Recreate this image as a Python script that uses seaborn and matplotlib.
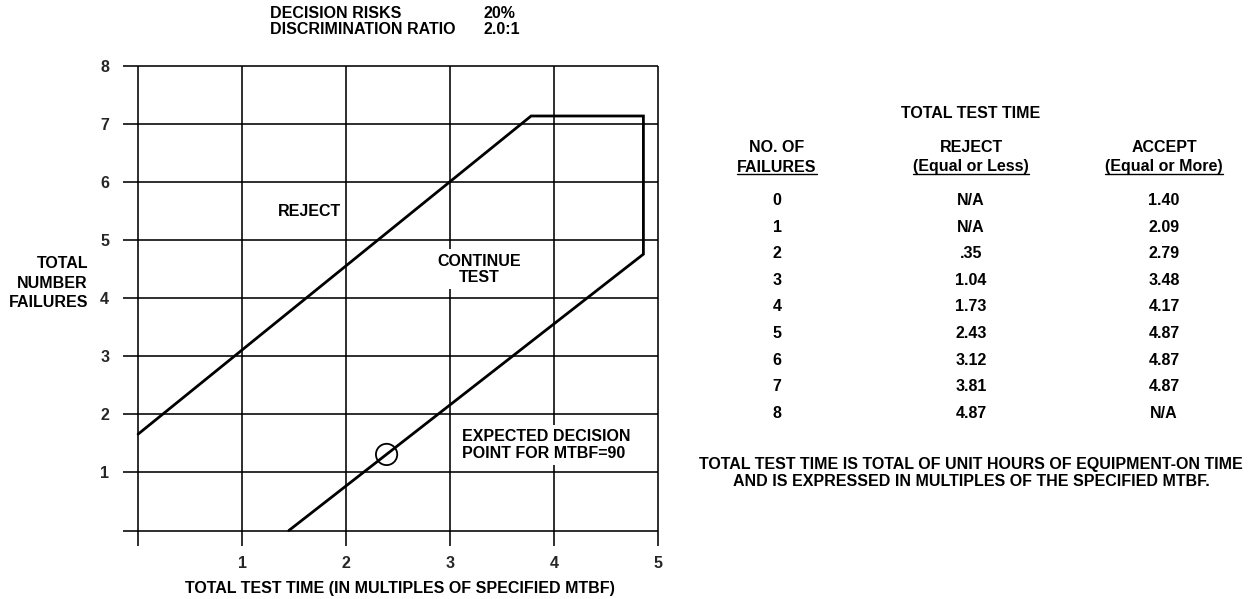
import numpy as np
import pandas as pd
import matplotlib
matplotlib.use("Agg")
import matplotlib.pyplot as plt
from matplotlib.lines import Line2D
import seaborn as sns

# ---- data ----
boundary_time = [0.0, 3.78, 4.86, 4.86, 1.45]
boundary_failures = [1.66, 7.14, 7.14, 4.76, 0.0]
decision_time = [2.39]
decision_failures = [1.31]
grid_x = [0, 1, 2, 3, 4, 5]
grid_y = [0, 1, 2, 3, 4, 5, 6, 7, 8]
x_ticks = [1, 2, 3, 4, 5]
y_ticks = [1, 2, 3, 4, 5, 6, 7, 8]

table_failures = ["0", "1", "2", "3", "4", "5", "6", "7", "8"]
table_reject = ["N/A", "N/A", ".35", "1.04", "1.73", "2.43", "3.12", "3.81", "4.87"]
table_accept = ["1.40", "2.09", "2.79", "3.48", "4.17", "4.87", "4.87", "4.87", "N/A"]

W, H = 1248, 599
FS = 11.5

sns.set_theme(style="white")
plt.rcParams["font.family"] = ["Liberation Sans", "DejaVu Sans"]
plt.rcParams["font.weight"] = "bold"
plt.rcParams["text.color"] = "black"

fig = plt.figure(figsize=(W / 100, H / 100), dpi=100)
fig.patch.set_facecolor("white")

# axes geometry (pixels)
ax_l, ax_r, ax_t, ax_b = 123, 659, 64.9, 545.6
ax = fig.add_axes([ax_l / W, (H - ax_b) / H, (ax_r - ax_l) / W, (ax_b - ax_t) / H])
ax.set_xlim(-0.145, 5.01)
ax.set_ylim(-0.26, 8.02)
ax.set_facecolor("white")
for s in ax.spines.values():
    s.set_visible(False)

ax.vlines(grid_x, -0.26, 8, color="black", lw=1.15, zorder=1)
ax.hlines(grid_y, -0.145, 5, color="black", lw=1.15, zorder=1)

df = pd.DataFrame({"t": boundary_time, "n": boundary_failures})
sns.lineplot(data=df, x="t", y="n", sort=False, estimator=None, color="black",
             lw=2.0, ax=ax, zorder=3)
for ln in ax.lines:
    ln.set_solid_joinstyle("miter")

pt = pd.DataFrame({"t": decision_time, "n": decision_failures})
sns.scatterplot(data=pt, x="t", y="n", marker="o", s=235, facecolor="none",
                edgecolor="black", linewidth=1.3, ax=ax, zorder=4)

ax.set_xticks(x_ticks)
ax.set_yticks(y_ticks)
ax.set_xticklabels([str(v) for v in x_ticks], fontsize=FS, fontweight="bold")
ax.set_yticklabels([str(v) for v in y_ticks], fontsize=FS, fontweight="bold")
ax.tick_params(axis="x", length=0, pad=7.5)
ax.tick_params(axis="y", length=0, pad=10)
ax.set_xlabel("")
ax.set_ylabel("")

box = dict(facecolor="white", edgecolor="none", pad=3)
ax.text(1.65, 5.5, "REJECT", ha="center", va="center", fontsize=FS, fontweight="bold", zorder=5)
ax.text(3.28, 4.5, "CONTINUE\nTEST", ha="center", va="center", fontsize=FS,
        fontweight="bold", linespacing=1.12, bbox=box, zorder=5)
ax.text(3.12, 1.47, "EXPECTED DECISION\nPOINT FOR MTBF=90", ha="left", va="center",
        fontsize=FS, fontweight="bold", linespacing=1.18, bbox=box, zorder=5)

def ftext(x, y, s, **kw):
    kw.setdefault("fontsize", FS)
    kw.setdefault("fontweight", "bold")
    return fig.text(x / W, 1 - y / H, s, **kw)

# axis labels
ftext(400, 588, "TOTAL TEST TIME (IN MULTIPLES OF SPECIFIED MTBF)", ha="center", va="center")
ftext(88, 283, "TOTAL\nNUMBER\nFAILURES", ha="right", va="center", multialignment="right",
      linespacing=1.38)

# header
ftext(270, 13, "DECISION RISKS", ha="left", va="center")
ftext(484, 13, "20%", ha="left", va="center")
ftext(270, 30, "DISCRIMINATION RATIO", ha="left", va="center")
ftext(484, 30, "2.0:1", ha="left", va="center")

# table
col_x = [777, 971, 1164]
ftext(971, 113, "TOTAL TEST TIME", ha="center", va="center")
ftext(col_x[0], 148, "NO. OF", ha="center", va="center")
ftext(col_x[1], 148, "REJECT", ha="center", va="center")
ftext(col_x[2], 148, "ACCEPT", ha="center", va="center")
under = []
for cx, s in zip(col_x, ["FAILURES", "(Equal or Less)", "(Equal or More)"]):
    under.append(ftext(cx, 171.5, s, ha="center", va="baseline"))

row_y0, row_dy = 200.5, 26.6
for i in range(len(table_failures)):
    y = row_y0 + i * row_dy
    ftext(col_x[0], y, table_failures[i], ha="center", va="center")
    ftext(col_x[1], y, table_reject[i], ha="center", va="center")
    ftext(col_x[2], y, table_accept[i], ha="center", va="center")

ftext(971, 464, "TOTAL TEST TIME IS TOTAL OF UNIT HOURS OF EQUIPMENT-ON TIME",
      ha="center", va="center")
ftext(971, 481, "AND IS EXPRESSED IN MULTIPLES OF THE SPECIFIED MTBF.",
      ha="center", va="center")

fig.canvas.draw()
r = fig.canvas.get_renderer()
for t in under:
    bb = t.get_window_extent(r)
    yb = (H - 171.5 - 3) / H
    fig.add_artist(Line2D([bb.x0 / W, bb.x1 / W], [yb, yb], transform=fig.transFigure,
                          color="black", lw=1.0))

fig.savefig("out.png", dpi=100, facecolor="white")
